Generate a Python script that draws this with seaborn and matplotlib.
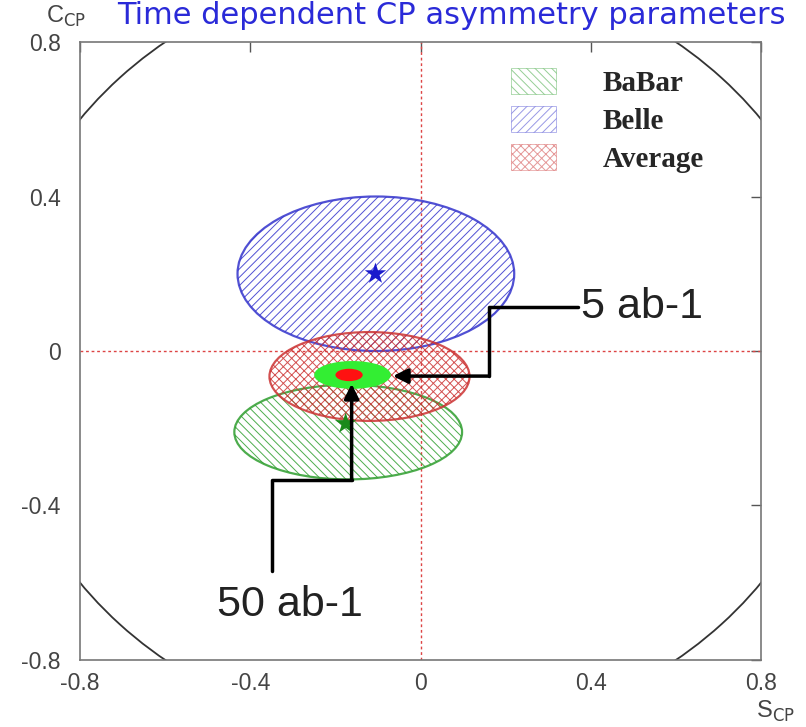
import numpy as np
import pandas as pd
import matplotlib
matplotlib.use("Agg")
import matplotlib.pyplot as plt
from matplotlib.patches import Ellipse, Circle, Patch
import seaborn as sns

# measurement ellipses (center S, center C, full width, full height)
names = ["BaBar", "Belle", "Average"]
centers_s = [-0.17, -0.105, -0.12]
centers_c = [-0.21, 0.20, -0.066]
widths = [0.535, 0.65, 0.47]
heights = [0.245, 0.40, 0.23]
edge_colors = ["#2e9e2e", "#3333cc", "#cc3333"]
hatches = ["\\\\\\\\", "////", "xxxx"]

# central values (stars)
star_s = [-0.176, -0.106]
star_c = [-0.188, 0.20]
star_colors = ["#1a8a1a", "#1a1acc"]

# projected precision (5 ab-1 and 50 ab-1)
proj_names = ["5 ab-1", "50 ab-1"]
proj_s = [-0.16, -0.168]
proj_c = [-0.062, -0.062]
proj_w = [0.18, 0.064]
proj_h = [0.072, 0.032]
proj_colors = ["#33ee33", "#ff1111"]

ticks = [-0.8, -0.4, 0, 0.4, 0.8]
tick_labels = ["-0.8", "-0.4", "0", "0.4", "0.8"]

sns.set_style("white")
plt.rcParams['font.family'] = ['Liberation Sans', 'DejaVu Sans']
plt.rcParams['hatch.linewidth'] = 0.7

fig = plt.figure(figsize=(8.06, 7.27), dpi=100)
ax = fig.add_axes([0.0993, 0.0922, 0.845, 0.85])
ax.set_xlim(-0.8, 0.8)
ax.set_ylim(-0.8, 0.8)

# physical boundary S^2 + C^2 = 1
ax.add_patch(Circle((0, 0), 1.0, fill=False, ec="#333333", lw=1.3))

ax.axvline(0, color="#dd4444", ls=(0, (2, 2)), lw=1)
ax.axhline(0, color="#dd4444", ls=(0, (2, 2)), lw=1)

for i in range(len(names)):
    ax.add_patch(Ellipse((centers_s[i], centers_c[i]), widths[i], heights[i],
                         fill=False, ec=edge_colors[i], hatch=hatches[i], lw=1.6,
                         zorder=2 + i, alpha=0.85))

stars = pd.DataFrame({"S": star_s, "C": star_c, "exp": names[:2]})
sns.scatterplot(data=stars, x="S", y="C", hue="exp", palette=star_colors,
                marker="*", s=260, legend=False, ax=ax, zorder=6, edgecolor="none")

for i in range(len(proj_names)):
    ax.add_patch(Ellipse((proj_s[i], proj_c[i]), proj_w[i], proj_h[i],
                         fc=proj_colors[i], ec="none", zorder=7 + i))

# arrows with labels
ax.plot([0.37, 0.16, 0.16], [0.114, 0.114, -0.065], color="black", lw=2.5, zorder=10)
ax.annotate("", xy=(-0.065, -0.065), xytext=(0.16, -0.065),
            arrowprops=dict(arrowstyle="-|>", color="black", lw=2.5,
                            mutation_scale=22, shrinkA=0, shrinkB=0), zorder=10)
ax.text(0.376, 0.114, "5 ab-1", fontsize=31, va="center", ha="left", zorder=10,
        color="#222222")

ax.plot([-0.35, -0.35, -0.162], [-0.57, -0.335, -0.335], color="black", lw=2.5, zorder=10)
ax.annotate("", xy=(-0.162, -0.085), xytext=(-0.162, -0.335),
            arrowprops=dict(arrowstyle="-|>", color="black", lw=2.5,
                            mutation_scale=22, shrinkA=0, shrinkB=0), zorder=10)
ax.text(-0.308, -0.658, "50 ab-1", fontsize=31, va="center", ha="center", zorder=10,
        color="#222222")

ax.set_xticks(ticks)
ax.set_xticklabels(tick_labels)
ax.set_yticks(ticks)
ax.set_yticklabels(tick_labels)
ax.set_xlabel("")
ax.set_ylabel("")
ax.tick_params(direction="in", length=7, width=1, color="#555555",
               top=True, right=True, labelsize=16.5, labelcolor="#444444")
ax.tick_params(axis="x", pad=9)
ax.tick_params(axis="y", pad=14)
for sp in ax.spines.values():
    sp.set_color("#777777")
    sp.set_linewidth(1.2)

fig.text(0.082, 0.978, r"C$_{\rm CP}$", fontsize=17, color="#444444", ha="center", va="center")
fig.text(0.962, 0.022, r"S$_{\rm CP}$", fontsize=17, color="#444444", ha="center", va="center")

handles = [Patch(fc="white", ec=edge_colors[i], hatch=hatches[i], lw=0.5, alpha=0.5)
           for i in range(len(names))]
leg = ax.legend(handles, names, loc="upper right", bbox_to_anchor=(0.955, 1.0),
                frameon=False, handlelength=1.55, handleheight=1.0, handletextpad=1.6,
                labelspacing=0.3,
                prop={"family": "Liberation Serif", "weight": "bold", "size": 21})

fig.text(0.145, 0.998, "Time dependent CP asymmetry parameters", fontsize=22,
         color="#2a2ad8", ha="left", va="top", family="DejaVu Sans")

fig.savefig("out.png", dpi=100)
